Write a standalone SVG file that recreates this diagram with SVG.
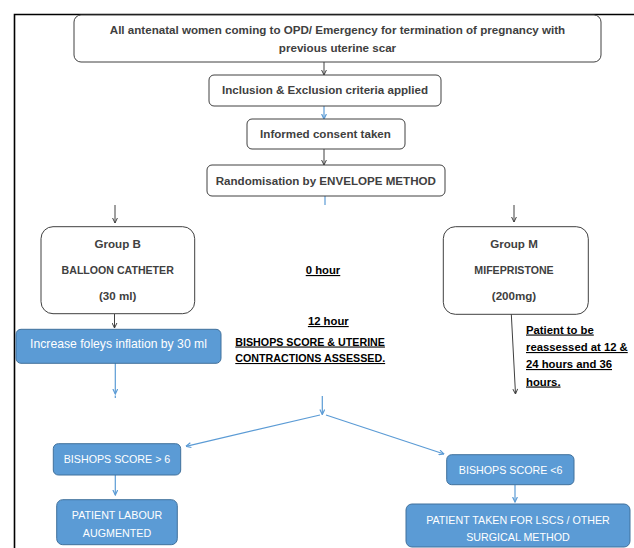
<svg xmlns="http://www.w3.org/2000/svg" width="634" height="548" viewBox="0 0 634 548">
<style>
text{font-family:"Liberation Sans",Arial,sans-serif;}
.wb{fill:#ffffff;stroke:#404040;stroke-width:1;}
.bb{fill:#5b9bd5;stroke:#41719c;stroke-width:1;}
.gt{fill:#404040;font-weight:bold;font-size:11.6px;text-anchor:middle;}
.gc{fill:#404040;font-weight:bold;font-size:10.6px;text-anchor:middle;}
.wt{fill:#ffffff;font-size:10.7px;text-anchor:middle;}
.ul{fill:#000000;font-weight:bold;font-size:11.3px;text-decoration:underline;}
.cd{fill:none;stroke:#404040;stroke-width:1;}
.cb{fill:none;stroke:#5b9bd5;stroke-width:1.2;}
</style>
<defs>
<marker id="ad" viewBox="0 0 6 6" refX="5.5" refY="3" markerWidth="6" markerHeight="6" markerUnits="userSpaceOnUse" orient="auto">
<path d="M0.5,0.6 L5.5,3 L0.5,5.4" fill="none" stroke="#404040" stroke-width="1"/>
</marker>
<marker id="ab" viewBox="0 0 6 6" refX="5.5" refY="3" markerWidth="6" markerHeight="6" markerUnits="userSpaceOnUse" orient="auto">
<path d="M0.5,0.6 L5.5,3 L0.5,5.4" fill="none" stroke="#5b9bd5" stroke-width="1.2"/>
</marker>
</defs>
<rect width="634" height="548" fill="#ffffff"/>
<path d="M14.5,548 V14.5 H634" fill="none" stroke="#000000" stroke-width="1.6"/>

<g id="connectors">
<line class="cd" x1="324" y1="62" x2="324" y2="75" marker-end="url(#ad)"/>
<line class="cb" x1="324" y1="106" x2="324" y2="119" marker-end="url(#ab)"/>
<line class="cd" x1="324" y1="149" x2="324" y2="165" marker-end="url(#ad)"/>
<line class="cb" x1="325" y1="196" x2="325" y2="205"/>
<line class="cd" x1="115" y1="205" x2="115" y2="223" marker-end="url(#ad)"/>
<line class="cd" x1="514" y1="205" x2="514" y2="222" marker-end="url(#ad)"/>
<line class="cd" x1="114.5" y1="314" x2="114.5" y2="328" marker-end="url(#ad)"/>
<line class="cb" x1="115.3" y1="363" x2="115.3" y2="394" marker-end="url(#ab)"/>
<line class="cb" x1="115.3" y1="395.5" x2="115.3" y2="398"/>
<line class="cd" x1="511.3" y1="314" x2="515.5" y2="394" marker-end="url(#ad)"/>
<line class="cb" x1="322.3" y1="396" x2="322.3" y2="414.5" marker-end="url(#ab)"/>
<line class="cb" x1="320" y1="415" x2="186" y2="446.3" marker-end="url(#ab)"/>
<line class="cb" x1="326" y1="415" x2="444" y2="454" marker-end="url(#ab)"/>
<line class="cb" x1="115.3" y1="475" x2="115.3" y2="495" marker-end="url(#ab)"/>
<line class="cb" x1="515" y1="485" x2="515" y2="502" marker-end="url(#ab)"/>
</g>

<g id="n-start">
<rect class="wb" x="74" y="15" width="527" height="47" rx="7"/>
<text class="gt" x="337.5" y="34">All antenatal women coming to OPD/ Emergency for termination of pregnancy with</text>
<text class="gt" x="337.5" y="52">previous uterine scar</text>
</g>
<g id="n-criteria">
<rect class="wb" x="209" y="75" width="232" height="31" rx="5"/>
<text class="gt" x="325" y="93.5">Inclusion &amp; Exclusion criteria applied</text>
</g>
<g id="n-consent">
<rect class="wb" x="247" y="119" width="158" height="30" rx="5"/>
<text class="gt" x="325.5" y="138.3">Informed consent taken</text>
</g>
<g id="n-random">
<rect class="wb" x="207" y="165" width="238" height="31" rx="5"/>
<text class="gt" x="325.8" y="184.7">Randomisation by ENVELOPE METHOD</text>
</g>
<g id="n-groupB">
<rect class="wb" x="41" y="226.7" width="153.7" height="87" rx="12"/>
<text class="gt" x="117.7" y="248">Group B</text>
<text class="gc" x="117.7" y="274">BALLOON CATHETER</text>
<text class="gt" x="117.7" y="300">(30 ml)</text>
</g>
<g id="n-groupM">
<rect class="wb" x="443.3" y="226.7" width="145" height="87.6" rx="12"/>
<text class="gt" x="514" y="248">Group M</text>
<text class="gc" x="514" y="274">MIFEPRISTONE</text>
<text class="gt" x="514" y="300">(200mg)</text>
</g>
<g id="n-increase">
<rect class="bb" x="16" y="329.3" width="205" height="34" rx="5"/>
<text class="wt" x="118.5" y="348.3" style="font-size:12.2px">Increase foleys inflation by 30 ml</text>
</g>
<g id="n-hour0">
<text class="ul" x="323" y="274" text-anchor="middle">0 hour</text>
</g>
<g id="n-hour12">
<text class="ul" x="328.3" y="325" text-anchor="middle">12 hour</text>
<text class="ul" x="235.3" y="345.5" style="font-size:10.7px">BISHOPS SCORE &amp; UTERINE</text>
<text class="ul" x="235.3" y="362" style="font-size:10.7px">CONTRACTIONS ASSESSED.</text>
</g>
<g id="n-reassess">
<text class="ul" x="526" y="333.5">Patient to be</text>
<text class="ul" x="526" y="351">reassessed at 12 &amp;</text>
<text class="ul" x="526" y="368">24 hours and 36</text>
<text class="ul" x="526" y="385.5">hours.</text>
</g>
<g id="n-bishopsHigh">
<rect class="bb" x="53.3" y="443.7" width="127.4" height="31.3" rx="5"/>
<text class="wt" x="117" y="463">BISHOPS SCORE &gt; 6</text>
</g>
<g id="n-augmented">
<rect class="bb" x="56.7" y="499.7" width="120.6" height="45" rx="6"/>
<text class="wt" x="117" y="518.5">PATIENT LABOUR</text>
<text class="wt" x="117" y="537">AUGMENTED</text>
</g>
<g id="n-bishopsLow">
<rect class="bb" x="446.7" y="454.7" width="127.3" height="30" rx="5"/>
<text class="wt" x="510.7" y="474">BISHOPS SCORE &lt;6</text>
</g>
<g id="n-lscs">
<rect class="bb" x="406" y="504" width="224" height="43" rx="6"/>
<text class="wt" x="518" y="523.5">PATIENT TAKEN FOR LSCS / OTHER</text>
<text class="wt" x="518" y="541">SURGICAL METHOD</text>
</g>
</svg>
